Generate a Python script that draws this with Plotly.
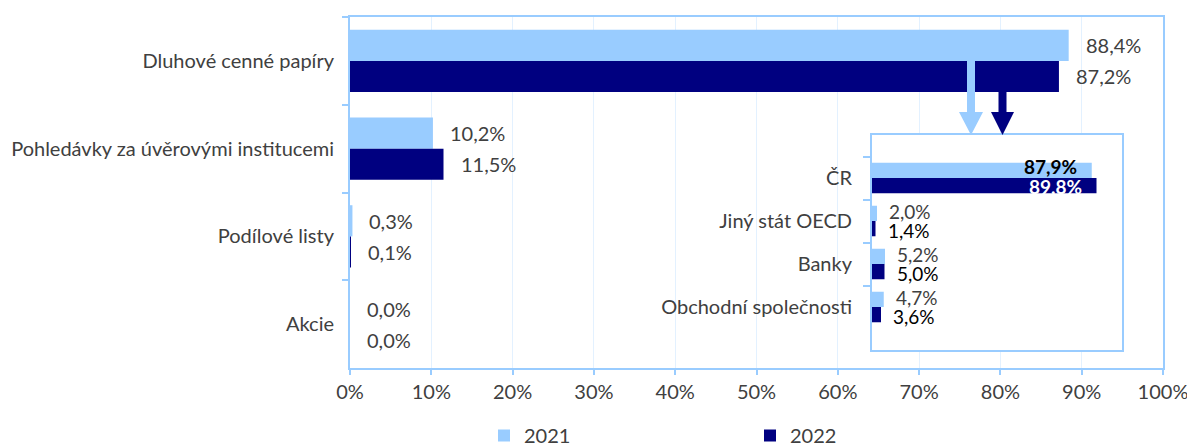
import plotly.graph_objects as go

# ---------------- data ----------------
categories = ["Dluhové cenné papíry", "Pohledávky za úvěrovými institucemi", "Podílové listy", "Akcie"]
values_2021 = [88.4, 10.2, 0.3, 0.0]
values_2022 = [87.2, 11.5, 0.1, 0.0]

inset_categories = ["ČR", "Jiný stát OECD", "Banky", "Obchodní společnosti"]
inset_2021 = [87.9, 2.0, 5.2, 4.7]
inset_2022 = [89.8, 1.4, 5.0, 3.6]

series_names = ["2021", "2022"]
x_tick_values = list(range(0, 101, 10))
x_tick_labels = [f"{v}%" for v in x_tick_values]

# ---------------- style ----------------
LIGHT = "#99CCFF"
DARK = "#000080"
GRID = "#E3F1FF"
TEXT = "#404040"
FONT = "Lato"
FS = 20

W, H = 1187, 447
# plot area in pixels
L, R, T, B = 350, 1163, 17, 368


def px2x(px):
    return (px - L) / (R - L)


def py2y(py):
    return (B - py) / (B - T)


def fmt(v):
    return f"{v:.1f}".replace(".", ",") + "%"


fig = go.Figure()

# main bars
for name, vals, col in [(series_names[0], values_2021, LIGHT), (series_names[1], values_2022, DARK)]:
    fig.add_trace(go.Bar(
        y=categories, x=vals, name=name, orientation="h",
        marker=dict(color=col, line=dict(width=0)),
        xaxis="x", yaxis="y", hoverinfo="skip",
    ))

# inset bars
for vals, col in [(inset_2021, LIGHT), (inset_2022, DARK)]:
    fig.add_trace(go.Bar(
        y=inset_categories, x=vals, orientation="h", showlegend=False,
        marker=dict(color=col, line=dict(width=0)),
        xaxis="x2", yaxis="y2", hoverinfo="skip",
    ))

annotations = []
# main value labels
main_half = 15.5
for vals, shift, col in [(values_2021, main_half, TEXT), (values_2022, -main_half, TEXT)]:
    for cat, v in zip(categories, vals):
        annotations.append(dict(
            x=v, y=cat, xref="x", yref="y", text=fmt(v), showarrow=False,
            xanchor="left", yanchor="middle", xshift=15, yshift=shift,
            font=dict(family=FONT, size=FS, color=col),
        ))

# inset value labels
inset_half = 9.75
for vals, shift, col, incol in [(inset_2021, inset_half, TEXT, "#000000"),
                                (inset_2022, -inset_half, "#000000", "#FFFFFF")]:
    for cat, v in zip(inset_categories, vals):
        if v > 50:
            annotations.append(dict(
                x=v, y=cat, xref="x2", yref="y2", text=f"<b>{fmt(v)}</b>", showarrow=False,
                xanchor="right", yanchor="middle", xshift=-13, yshift=shift + 1.5,
                font=dict(family=FONT, size=FS - 1, color=incol),
            ))
        else:
            annotations.append(dict(
                x=v, y=cat, xref="x2", yref="y2", text=fmt(v), showarrow=False,
                xanchor="left", yanchor="middle", xshift=10, yshift=shift,
                font=dict(family=FONT, size=FS - 1, color=col),
            ))

shapes = []
# white background of the inset (drawn in the inset subplot layer, over main gridlines)
shapes.append(dict(type="rect", xref="x2", yref="y2", x0=-10, x1=110, y0=-1, y1=4,
                   fillcolor="white", line=dict(width=0), layer="below"))


def arrow(cx, y_start, y_head, y_tip, shaft_w, head_w, color):
    xs0, xs1 = px2x(cx - shaft_w / 2), px2x(cx + shaft_w / 2)
    xh0, xh1 = px2x(cx - head_w / 2), px2x(cx + head_w / 2)
    xc = px2x(cx)
    path = (f"M {xs0},{py2y(y_start)} L {xs1},{py2y(y_start)} L {xs1},{py2y(y_head)} "
            f"L {xh1},{py2y(y_head)} L {xc},{py2y(y_tip)} L {xh0},{py2y(y_head)} "
            f"L {xs0},{py2y(y_head)} Z")
    return dict(type="path", xref="paper", yref="paper", path=path,
                fillcolor=color, line=dict(width=0), layer="above")


shapes.append(arrow(971, 61, 112, 135, 8, 24, LIGHT))
shapes.append(arrow(1002.5, 92, 112, 135, 8, 23, DARK))

fig.update_layout(
    width=W, height=H,
    margin=dict(l=L, r=W - R, t=T, b=H - B, pad=0, autoexpand=False),
    paper_bgcolor="white", plot_bgcolor="white",
    barmode="group", bargap=0.29, bargroupgap=0,
    font=dict(family=FONT, size=FS, color=TEXT),
    showlegend=True,
    legend=dict(orientation="h", x=px2x(484), y=py2y(416), xanchor="left", yanchor="top",
                entrywidth=221, font=dict(family=FONT, size=FS, color=TEXT),
                bgcolor="rgba(0,0,0,0)"),
    xaxis=dict(domain=[0, 1], range=[0, 100], tickvals=x_tick_values, ticktext=x_tick_labels,
               automargin=False, ticklabeloverflow="allow",
               showgrid=True, gridcolor=GRID, gridwidth=1, zeroline=False,
               showline=True, linecolor=LIGHT, linewidth=2, mirror=True,
               ticks="outside", ticklen=5, tickcolor=LIGHT, tickwidth=2,
               tickfont=dict(family=FONT, size=FS, color=TEXT), fixedrange=True),
    yaxis=dict(domain=[0, 1], autorange="reversed", showgrid=False, zeroline=False,
               automargin=False,
               showline=True, linecolor=LIGHT, linewidth=2, mirror=True,
               ticks="outside", tickson="boundaries", ticklen=6, tickcolor=LIGHT, tickwidth=2,
               ticklabelstandoff=10,
               tickfont=dict(family=FONT, size=FS, color=TEXT), fixedrange=True),
    xaxis2=dict(domain=[px2x(872), px2x(1122)], range=[0, 100], anchor="y2",
                automargin=False,
                showgrid=False, zeroline=False, showticklabels=False, ticks="",
                showline=True, linecolor=LIGHT, linewidth=2, mirror=True, fixedrange=True),
    yaxis2=dict(domain=[py2y(350), py2y(135)], anchor="x2", autorange="reversed",
                automargin=False,
                showgrid=False, zeroline=False,
                showline=True, linecolor=LIGHT, linewidth=2, mirror=True,
                ticks="outside", tickson="boundaries", ticklen=7, tickcolor=LIGHT, tickwidth=2,
                ticklabelstandoff=14,
                tickfont=dict(family=FONT, size=FS, color=TEXT), fixedrange=True),
    annotations=annotations,
    shapes=shapes,
)

fig.write_html(
    "out.html",
    config={"displayModeBar": False},
    post_script="document.body.style.margin='0';document.body.style.overflow='hidden';",
)
